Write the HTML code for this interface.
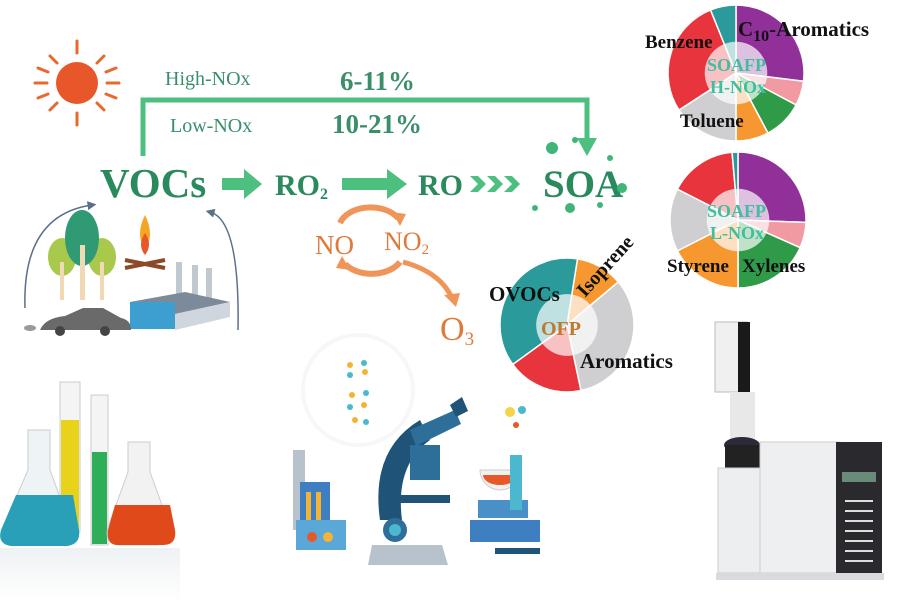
<!DOCTYPE html>
<html><head><meta charset="utf-8"><style>
body{margin:0;background:#fff;}
svg{display:block;font-family:"Liberation Serif",serif;}
</style></head><body>
<svg id="s" width="900" height="600" viewBox="0 0 900 600" xmlns="http://www.w3.org/2000/svg">
<defs>
<marker id="ga" markerWidth="6" markerHeight="6" refX="3" refY="3" orient="auto" markerUnits="strokeWidth"><path d="M0,0L6,3L0,6z" fill="#5a6f8a"/></marker>
<linearGradient id="fade" x1="0" y1="0" x2="0" y2="1"><stop offset="0" stop-color="#fff" stop-opacity="0"/><stop offset="1" stop-color="#fff" stop-opacity="1"/></linearGradient>
</defs>
<!-- sun -->
<circle cx="77" cy="83" r="21" fill="#e8572a"/>
<g stroke="#e8692e" stroke-width="3" stroke-linecap="round">
<line x1="77" y1="41" x2="77" y2="53"/><line x1="77" y1="113" x2="77" y2="125"/>
<line x1="35" y1="83" x2="47" y2="83"/><line x1="107" y1="83" x2="119" y2="83"/>
<line x1="50" y1="56" x2="57" y2="63"/><line x1="97" y1="103" x2="104" y2="110"/>
<line x1="104" y1="56" x2="97" y2="63"/><line x1="57" y1="103" x2="50" y2="110"/>
<line x1="38" y1="68" x2="48" y2="72"/><line x1="106" y1="94" x2="116" y2="98"/>
<line x1="116" y1="68" x2="106" y2="72"/><line x1="48" y1="94" x2="38" y2="98"/>
</g>
<!-- bracket -->
<path d="M143,156 V100 H587 V140" fill="none" stroke="#4dbf7f" stroke-width="5"/>
<path d="M577,138 L597,138 L587,156z" fill="#4dbf7f"/>
<g fill="#3a8f6a" font-weight="bold">
<text x="165" y="85" font-size="20" font-weight="normal">High-NOx</text>
<text x="340" y="90" font-size="27">6-11%</text>
<text x="170" y="132" font-size="20" font-weight="normal">Low-NOx</text>
<text x="332" y="133" font-size="27">10-21%</text>
</g>
<!-- main chain -->
<g fill="#2a8a5e" font-weight="bold">
<text x="100" y="197" font-size="41">VOCs</text>
<text x="275" y="195" font-size="30">RO<tspan font-size="16" dy="4">2</tspan></text>
<text x="418" y="195" font-size="30">RO</text>
<text x="543" y="197" font-size="39">SOA</text>
</g>
<path d="M222,178 h22 v-9 l18,15 -18,15 v-9 h-22z" fill="#4dbf7f"/>
<path d="M342,178 h45 v-9 l20,15 -20,15 v-9 h-45z" fill="#4dbf7f"/>
<g fill="#4dbf7f"><path d="M470,176 l8,0 8,8 -8,8 -8,0 8,-8z"/><path d="M487,176 l8,0 8,8 -8,8 -8,0 8,-8z"/><path d="M504,176 l8,0 8,8 -8,8 -8,0 8,-8z"/></g>
<g fill="#3fb57a"><circle cx="552" cy="148" r="6"/><circle cx="575" cy="140" r="3"/><circle cx="610" cy="158" r="3"/><circle cx="622" cy="188" r="5"/><circle cx="570" cy="208" r="5"/><circle cx="600" cy="205" r="3"/><circle cx="535" cy="208" r="3"/></g>
<!-- NO cycle -->
<path d="M340,223 A32,22 0 0 1 398,218" fill="none" stroke="#f0955a" stroke-width="6"/>
<path d="M392,212 l14,2 -6,12z" fill="#f0955a"/>
<path d="M400,262 A32,22 0 0 1 345,264" fill="none" stroke="#f0955a" stroke-width="6"/>
<path d="M350,270 l-14,-2 6,-12z" fill="#f0955a"/>
<path d="M403,262 Q440,272 452,298" fill="none" stroke="#f0955a" stroke-width="5"/>
<path d="M444,295 l16,-2 -4,14z" fill="#f0955a"/>
<g fill="#e07a3a"><text x="315" y="254" font-size="27">NO</text><text x="384" y="250" font-size="26">NO<tspan font-size="15" dy="4">2</tspan></text>
<text x="440" y="340" font-size="34">O<tspan font-size="19" dy="5">3</tspan></text></g>
<!-- sources -->
<path d="M25,308 Q22,215 92,205" fill="none" stroke="#5a6f8a" stroke-width="1.5" marker-end="url(#ga)"/>
<path d="M238,330 Q240,220 210,212" fill="none" stroke="#5a6f8a" stroke-width="1.5" marker-end="url(#ga)"/>
<ellipse cx="62" cy="257" rx="14" ry="19" fill="#a9c94d"/><rect x="60" y="262" width="4" height="38" fill="#f1d9b5"/>
<ellipse cx="102" cy="257" rx="14" ry="19" fill="#a9c94d"/><rect x="100" y="262" width="4" height="38" fill="#f1d9b5"/>
<ellipse cx="82" cy="238" rx="17" ry="28" fill="#2f9a73"/><rect x="80" y="245" width="5" height="55" fill="#f1d9b5"/>
<path d="M145,250 q-10,-15 0,-35 q10,20 0,35z" fill="#f5a623"/><path d="M145,255 q-8,-10 0,-22 q8,12 0,22z" fill="#e8572a"/>
<path d="M125,268 l40,-8 M125,260 l40,8" stroke="#8a4a2a" stroke-width="4"/>
<rect x="176" y="262" width="6" height="42" fill="#c0c8d0"/><rect x="192" y="265" width="6" height="39" fill="#c0c8d0"/><rect x="206" y="268" width="6" height="36" fill="#c0c8d0"/>
<path d="M130,302 l55,-10 45,10 -55,12z" fill="#7c8a99"/>
<rect x="130" y="302" width="45" height="27" fill="#3d9fd0"/><path d="M175,314 l55,-12 v15 l-55,13z" fill="#cfd6dd"/>
<path d="M40,330 q5,-12 25,-14 l18,-8 h20 l18,10 q10,2 10,12z" fill="#6a6a6a"/><circle cx="60" cy="331" r="5" fill="#444"/><circle cx="105" cy="331" r="5" fill="#444"/><ellipse cx="30" cy="328" rx="6" ry="3" fill="#999"/>
<!-- pies generated -->
<g id="pies"></g>
<g font-weight="bold" fill="#111">
<text x="645" y="48" font-size="19">Benzene</text>
<text x="738" y="36" font-size="21">C<tspan font-size="16" dy="5">10</tspan><tspan dy="-5">-Aromatics</tspan></text>
<text x="680" y="127" font-size="19">Toluene</text>
<text x="667" y="272" font-size="19">Styrene</text>
<text x="742" y="272" font-size="19">Xylenes</text>
<text x="489" y="301" font-size="21">OVOCs</text>
<text x="580" y="368" font-size="21">Aromatics</text>
<text transform="translate(585,298) rotate(-48)" font-size="20">Isoprene</text>
</g>
<g font-weight="bold" fill="#3dbfa0" font-size="18">
<text x="707" y="71">SOAFP</text><text x="710" y="93">H-NOx</text>
<text x="707" y="217">SOAFP</text><text x="710" y="239">L-NOx</text>
</g>
<text x="541" y="335" font-weight="bold" fill="#c07a30" font-size="20">OFP</text>
<!-- lab glassware -->
<rect x="60" y="382" width="20" height="150" fill="#f4f4f4" stroke="#ccc"/><rect x="61" y="420" width="18" height="110" fill="#e8d21a"/>
<rect x="91" y="395" width="17" height="150" fill="#f4f4f4" stroke="#ccc"/><rect x="92" y="452" width="15" height="92" fill="#2fae5a"/>
<path d="M28,430 h22 v40 l22,60 q2,12 -10,14 h-50 q-12,-2 -10,-14 l26,-60z" fill="#eef4f6" stroke="#ccc"/>
<path d="M16,495 h57 l6,35 q2,14 -12,16 h-56 q-14,-2 -10,-16z" fill="#2aa0b8"/>
<path d="M128,442 h22 v30 l20,55 q3,16 -12,18 h-40 q-14,-2 -10,-18 l20,-55z" fill="#f2f2f2" stroke="#ccc"/>
<path d="M115,505 h55 l5,25 q2,15 -12,15 h-45 q-12,0 -10,-15z" fill="#e04a1a"/>
<rect x="0" y="548" width="180" height="52" fill="#dde6ea" opacity="0.5"/><rect x="0" y="548" width="180" height="52" fill="url(#fade)"/>
<!-- lab scene -->
<circle cx="358" cy="390" r="55" fill="none" stroke="#f7f7f7" stroke-width="4"/>
<g fill="#f5b335"><circle cx="350" cy="365" r="3"/><circle cx="365" cy="372" r="3"/><circle cx="352" cy="395" r="3"/><circle cx="364" cy="405" r="3"/><circle cx="355" cy="420" r="3"/></g>
<g fill="#4bb8d0"><circle cx="364" cy="363" r="3"/><circle cx="350" cy="375" r="3"/><circle cx="366" cy="393" r="3"/><circle cx="350" cy="407" r="3"/><circle cx="366" cy="422" r="3"/></g>
<rect x="293" y="450" width="12" height="80" fill="#b8c2cc"/>
<rect x="300" y="482" width="30" height="58" fill="#3d7fc0"/><rect x="306" y="492" width="5" height="28" fill="#f5b335"/><rect x="316" y="492" width="5" height="28" fill="#f5b335"/>
<rect x="296" y="520" width="50" height="30" fill="#5aa8d8"/><circle cx="312" cy="537" r="5" fill="#e8572a"/><circle cx="328" cy="537" r="5" fill="#f5b335"/>
<path d="M380,520 q-10,-70 40,-100 l10,20 q-35,25 -28,80z" fill="#1f5478"/>
<path d="M410,430 l45,-20 6,14 -45,22z" fill="#2e6f9a"/><path d="M450,405 l12,-8 6,14 -12,6z" fill="#1f5478"/>
<rect x="410" y="445" width="30" height="35" fill="#2e6f9a"/><rect x="395" y="495" width="55" height="8" fill="#1f5478"/>
<circle cx="395" cy="530" r="12" fill="#2e6f9a"/><circle cx="395" cy="530" r="6" fill="#4bb8d0"/>
<path d="M372,545 h70 l6,20 h-80z" fill="#b8c2cc"/>
<path d="M480,470 a20,20 0 1 0 40,0 z" fill="#f0f0f0" stroke="#ccc"/><path d="M483,475 a17,10 0 0 0 34,0z" fill="#e8572a"/>
<rect x="478" y="500" width="50" height="18" fill="#4a90c8"/><rect x="510" y="455" width="12" height="55" fill="#4bb8d0"/>
<rect x="470" y="520" width="70" height="22" fill="#3d7fc0"/><rect x="495" y="548" width="45" height="6" fill="#1f5478"/>
<g fill="#f5d34a"><circle cx="510" cy="412" r="5"/></g><circle cx="522" cy="410" r="4" fill="#4bb8d0"/><circle cx="516" cy="425" r="3" fill="#e8572a"/>
<!-- GC -->
<rect x="715" y="322" width="32" height="70" fill="#f0f0f0" stroke="#bbb"/><rect x="738" y="322" width="12" height="100" fill="#1a1a1a"/>
<rect x="730" y="392" width="25" height="50" fill="#e8e8e8"/>
<ellipse cx="742" cy="445" rx="18" ry="8" fill="#2a2a3a"/><rect x="725" y="445" width="35" height="25" fill="#222"/>
<rect x="718" y="468" width="42" height="105" fill="#eceef0" stroke="#ccc"/>
<rect x="760" y="442" width="80" height="131" fill="#eeeff1" stroke="#ccc"/>
<rect x="836" y="442" width="46" height="131" fill="#2a2a2e"/><rect x="842" y="472" width="34" height="10" fill="#6a8a7a"/>
<g fill="#ddd"><rect x="845" y="500" width="28" height="2"/><rect x="845" y="510" width="28" height="2"/><rect x="845" y="520" width="28" height="2"/><rect x="845" y="530" width="28" height="2"/><rect x="845" y="540" width="28" height="2"/><rect x="845" y="550" width="28" height="2"/><rect x="845" y="560" width="28" height="2"/></g>
<rect x="716" y="573" width="168" height="7" fill="#d8dadd"/>
</svg>
<script>
function pie(cx,cy,r,segs){
 var ns="http://www.w3.org/2000/svg",g=document.getElementById('pies');
 function pt(a,rr){a=a*Math.PI/180;return [cx+rr*Math.sin(a),cy-rr*Math.cos(a)];}
 segs.forEach(function(s){
  var p0=pt(s[0],r),p1=pt(s[1],r),lg=(s[1]-s[0])>180?1:0;
  var p=document.createElementNS(ns,'path');
  p.setAttribute('d','M'+cx+','+cy+'L'+p0+'A'+r+','+r+' 0 '+lg+' 1 '+p1+'z');
  p.setAttribute('fill',s[2]);p.setAttribute('stroke','#fff');p.setAttribute('stroke-width','1.5');g.appendChild(p);
 });
 var c=document.createElementNS(ns,'circle');c.setAttribute('cx',cx);c.setAttribute('cy',cy);c.setAttribute('r',r*0.46);c.setAttribute('fill','#fff');c.setAttribute('opacity','0.7');g.appendChild(c);
}
var P='#92309a',K='#f29aa2',G='#2f9a48',O='#f6982f',Y='#cfcfd1',R='#e8343c',T='#2a9a9a';
pie(736,73,68,[[0,97,P],[97,118,K],[118,152,G],[152,180,O],[180,237,Y],[237,338,R],[338,360,T]]);
pie(738,220,68,[[0,92,P],[92,114,K],[114,180,G],[180,243,O],[243,297,Y],[297,355,R],[355,360,T]]);
pie(567,325,67,[[9,50,O],[50,168,Y],[168,234,R],[234,369,T]]);
</script>
</body></html>
